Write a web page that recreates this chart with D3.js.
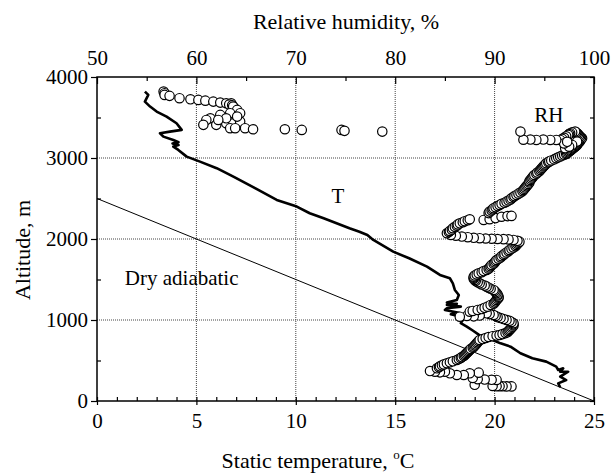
<!DOCTYPE html>
<html>
<head>
<meta charset="utf-8">
<script src="https://cdn.jsdelivr.net/npm/d3@7"></script>
<style>
   body { margin: 0; background: #fff; }
   svg text { font-family: "Liberation Serif", "Times New Roman", serif; fill: #000; }
   .grid-line { stroke: #444; stroke-width: 1; stroke-dasharray: 1,1; }
   .frame { fill: none; stroke: #000; stroke-width: 1.5; }
   .temp-line { fill: none; stroke: #000; stroke-width: 2.6; stroke-linejoin: round; }
   .rh-dot { fill: #fff; stroke: #000; stroke-width: 1.2; }
   .adiabat { stroke: #000; stroke-width: 1; }
</style>
</head>
<body>
<svg id="chart" width="611" height="473"></svg>
<script>
// temperature profile, [deg C, altitude m], surface upward
var tempProfile = [
   [23.3,170],[23.2,218],[23.6,259],[23.3,300],[23.7,362],[23.3,362],[23.45,403],[23.2,383],
   [23.1,424],[22.6,486],[21.9,527],[21.3,589],[20.8,671],[20.3,712],[19.9,753],[19.6,774],
   [19.2,820],[18.9,870],[18.6,918],[18.3,960],[18.4,1000],[18.3,1041],[17.8,1070],[18.2,1090],
   [17.5,1124],[17.6,1145],[18.3,1165],[17.6,1185],[18.1,1200],[17.6,1215],[18.1,1247],
   [18.2,1309],[18.0,1371],[17.9,1453],[17.75,1515],[17.25,1556],[16.6,1659],[15.7,1762],
   [14.9,1844],[13.9,1988],[13.6,2050],[13.2,2090],[12.7,2133],[11.4,2256],[10.7,2318],
   [10.05,2400],[9.04,2482],[7.95,2627],[6.86,2770],[6.02,2874],[5.18,2955],[4.51,3017],
   [4.09,3100],[3.84,3141],[4.1,3160],[3.8,3180],[4.1,3195],[3.84,3223],[3.34,3264],
   [3.17,3306],[3.67,3326],[4.26,3347],[4.0,3429],[3.5,3511],[3.0,3573],[2.67,3635],
   [2.41,3696],[2.58,3779],[2.41,3820]
];

var rhLower = [
   [91.7,180],[91.2,180],[90.8,182],[90.5,182],[90.2,182],[89.8,185],[88.0,200],
   [90.2,260],[89.7,262],[89.0,265],[88.3,270],[87.8,285],
   [88.4,350],[87.5,342],[86.9,321],[86.2,321],
   [85.5,342],[85.0,362],[84.5,354],[84.0,362],[83.5,370],
   [84.2,404],[84.4,416],[84.5,428],[84.7,440],[84.9,452],[85.2,466],[85.5,478],[85.8,490],
   [86.2,506],[86.4,518],[86.6,530],[86.7,542],[86.9,555],[87.0,568],[87.1,580],[87.2,593],
   [87.3,605],[87.4,618],[87.5,630],[87.6,643],[87.8,656],[87.9,671],[88.0,684],[88.1,697],
   [88.2,712],[88.3,725],[88.4,740],[88.5,753],[88.8,765],[89.1,778],[89.4,790],[89.8,800],
   [90.2,808],[90.5,815],[90.8,826],[91.1,838],[91.3,850],[91.4,865],[91.5,877],[91.6,890],
   [91.7,905],[91.8,918],[91.9,932],[91.9,946],[91.9,960],[91.7,975],[91.5,990],[91.2,1000],
   [90.9,1012],[90.6,1024],[90.3,1036],[90.1,1050],[89.9,1062],[89.5,1073],[89.2,1083],
   [88.5,1055],[87.9,1045],[87.2,1050],[86.5,1041]
];

var rhMiddle = [
   [87.5,1103],[87.8,1112],[88.3,1124],[88.7,1135],[89.0,1150],[89.3,1165],[89.6,1186],
   [89.9,1200],[90.0,1215],[90.1,1230],[90.2,1247],[90.3,1262],[90.4,1275],[90.4,1288],
   [90.3,1302],[90.3,1316],[90.2,1330],[90.1,1343],[90.0,1357],[89.9,1371],[89.6,1385],
   [89.4,1398],[89.2,1412],[89.0,1425],[88.7,1439],[88.5,1453],[88.3,1467],[88.1,1480],
   [88.0,1494],[87.9,1508],[87.9,1521],[87.9,1535],[88.0,1549],[88.2,1563],[88.4,1577],
   [88.7,1590],[88.9,1604],[89.2,1618],[89.4,1633],[89.5,1648],[89.6,1664],[89.7,1680],
   [89.9,1695],[90.0,1710],[90.1,1726],[90.2,1741],[90.4,1756],[90.6,1772],[90.7,1788],
   [90.9,1803],[91.0,1818],[91.2,1834],[91.4,1850],[91.5,1865],[91.7,1880],[91.9,1896],
   [92.1,1912],[92.2,1927],[92.3,1940],[92.4,1953],[92.5,1967],[92.3,1978],[91.9,1988],
   [91.4,1995],[90.9,1998],[90.3,2000],[89.7,2003],[89.1,2006],[88.5,2010],[87.9,2015],
   [87.3,2022],[86.7,2030],[86.1,2040],[85.6,2050],[85.2,2071],
   [85.4,2085],[85.5,2100],[85.7,2115],[85.8,2133],[86.0,2150],[86.2,2165],[86.3,2180],
   [86.5,2194],[86.8,2207],[87.0,2220],[87.3,2232],[87.5,2244],
   [88.9,2235],[89.5,2245],[90.1,2258],[90.7,2275],[91.3,2283],[91.7,2285]
];

var rhUpper = [
   [89.4,2320],[89.5,2338],[89.7,2352],[89.8,2366],[89.9,2380],[90.1,2393],[90.3,2407],
   [90.5,2420],[90.7,2434],[91.0,2447],[91.2,2461],[91.4,2475],[91.6,2489],[91.7,2503],
   [91.9,2517],[92.0,2530],[92.2,2544],[92.4,2560],[92.6,2575],[92.8,2590],[92.9,2606],
   [93.0,2620],[93.1,2635],[93.2,2650],[93.3,2665],[93.4,2680],[93.5,2697],[93.5,2713],
   [93.6,2729],[93.7,2745],[93.8,2760],[93.9,2775],[94.0,2790],[94.2,2805],[94.3,2820],
   [94.5,2836],[94.6,2853],[94.7,2867],[94.8,2881],[94.9,2895],[95.0,2908],[95.1,2921],
   [95.2,2935],[95.4,2947],[95.5,2958],[95.7,2970],[96.0,2983],[96.2,2997],[96.4,3008],
   [96.6,3019],[96.8,3030],[97.0,3040],[97.2,3050],[97.3,3059],[97.4,3070],[97.5,3080],
   [97.6,3090],[97.7,3100],[97.8,3110],[97.9,3121],[98.0,3131],[98.1,3140],[98.2,3150],
   [98.3,3160],[98.3,3171],[98.4,3182],[98.5,3195],[98.6,3208],[98.6,3220],[98.7,3232],
   [98.8,3244],[98.7,3254],[98.6,3264],[98.5,3278],[98.4,3292],[98.3,3306],[98.2,3316],
   [98.1,3326],[97.8,3316],[97.6,3306],[97.5,3296],[97.4,3285],[97.2,3268],[97.0,3250],
   [96.8,3236],[96.6,3223],[98.3,3203],[97.8,3161],[97.1,3121],[97.5,3140],[97.0,3180],
   [97.3,3200],
   [96.2,3223],[95.6,3223],[94.9,3228],[94.2,3223],[93.6,3228],[92.9,3225],[92.6,3326]
];

var rhTop = [
   [56.7,3820],[56.8,3800],[56.8,3779],[57.3,3767],[58.3,3738],[59.4,3725],[60.2,3717],
   [60.9,3708],[61.7,3696],[62.4,3684],[63.0,3676],[63.5,3676],[63.3,3660],[63.6,3650],
   [63.8,3620],[63.7,3635],[64.1,3594],[64.4,3553],[63.4,3553],[62.4,3532],[61.4,3491],
   [61.0,3470],[60.7,3409],[62.0,3409],[63.0,3429],[63.7,3429],[64.4,3450],[64.1,3511],
   [63.0,3490],[62.2,3470],[63.4,3368],[63.9,3368],[64.9,3368],[65.7,3355],[68.9,3355],
   [70.6,3347],[74.6,3347],[74.9,3335],[78.7,3326]
];

// dry adiabatic reference, [deg C, altitude m]
var dryAdiabat = [[0,2500],[25,0]];

var tempTicks = [0,5,10,15,20,25];
var rhTicks = [50,60,70,80,90,100];
var altTicks = [0,1000,2000,3000,4000];
var tempGrid = [5,10,15,20];
var altGrid = [1000,2000,3000];

var chartLabels = [
   {text: "T", x: 11.8, y: 2440},
   {text: "RH", x: 22.0, y: 3450},
   {text: "Dry adiabatic", x: 1.4, y: 1430}
];

var plot = {left: 97, right: 594, top: 77, bottom: 401};
var serif = "'Liberation Serif', 'Times New Roman', serif";
var svg = d3.select("#chart");

var xTemp = d3.scaleLinear().domain([0,25]).range([plot.left, plot.right]);
var xRH = d3.scaleLinear().domain([50,100]).range([plot.left, plot.right]);
var yAlt = d3.scaleLinear().domain([0,4000]).range([plot.bottom, plot.top]);

//dotted grid
svg.selectAll("line.grid-x")
   .data(tempGrid)
   .enter()
   .append("line")
   .attr("class", "grid-line")
   .attr("x1", function(d){ return xTemp(d); })
   .attr("x2", function(d){ return xTemp(d); })
   .attr("y1", plot.top)
   .attr("y2", plot.bottom);
svg.selectAll("line.grid-y")
   .data(altGrid)
   .enter()
   .append("line")
   .attr("class", "grid-line")
   .attr("x1", plot.left)
   .attr("x2", plot.right)
   .attr("y1", function(d){ return yAlt(d); })
   .attr("y2", function(d){ return yAlt(d); });

//dry adiabatic line
svg.append("line")
   .attr("class", "adiabat")
   .attr("x1", xTemp(dryAdiabat[0][0]))
   .attr("y1", yAlt(dryAdiabat[0][1]))
   .attr("x2", xTemp(dryAdiabat[1][0]))
   .attr("y2", yAlt(dryAdiabat[1][1]));

//temperature profile
var tempLine = d3.line()
   .x(function(d){ return xTemp(d[0]); })
   .y(function(d){ return yAlt(d[1]); });
svg.append("path")
   .datum(tempProfile)
   .attr("class", "temp-line")
   .attr("d", tempLine);

//humidity circles
var rhProfile = rhLower.concat(rhMiddle, rhUpper, rhTop);
svg.selectAll("circle.rh-dot")
   .data(rhProfile)
   .enter()
   .append("circle")
   .attr("class", "rh-dot")
   .attr("cx", function(d){ return xRH(d[0]); })
   .attr("cy", function(d){ return yAlt(d[1]); })
   .attr("r", 4.7);

//axes: minor ticks first, then major ones with labels
function styleAxis(g){
   g.attr("font-family", null);
   g.select(".domain").remove();
   g.selectAll("line").attr("stroke", "#000").attr("stroke-width", 1.2);
   g.selectAll("text").style("font-size", "21px").style("font-family", serif);
}

svg.append("g")
   .attr("transform", "translate(0," + plot.bottom + ")")
   .call(d3.axisBottom(xTemp).tickValues(d3.range(0, 26, 1)).tickSize(-4).tickFormat(""))
   .call(styleAxis);
svg.append("g")
   .attr("transform", "translate(0," + plot.bottom + ")")
   .call(d3.axisBottom(xTemp).tickValues(tempTicks).tickSizeInner(4).tickSizeOuter(0).tickPadding(8).tickFormat(d3.format("d")))
   .call(styleAxis);

svg.append("g")
   .attr("transform", "translate(0," + plot.top + ")")
   .call(d3.axisTop(xRH).tickValues(d3.range(55, 100, 10)).tickSize(-4).tickFormat(""))
   .call(styleAxis);
svg.append("g")
   .attr("transform", "translate(0," + plot.top + ")")
   .call(d3.axisTop(xRH).tickValues(rhTicks).tickSize(-7).tickPadding(12).tickFormat(d3.format("d")))
   .call(styleAxis);

svg.append("g")
   .attr("transform", "translate(" + plot.left + ",0)")
   .call(d3.axisLeft(yAlt).tickValues(d3.range(500, 4000, 1000)).tickSize(-4).tickFormat(""))
   .call(styleAxis);
svg.append("g")
   .attr("transform", "translate(" + plot.left + ",0)")
   .call(d3.axisLeft(yAlt).tickValues(altTicks).tickSize(6).tickPadding(3).tickFormat(d3.format("d")))
   .call(styleAxis);

svg.append("g")
   .attr("transform", "translate(" + plot.right + ",0)")
   .call(d3.axisRight(yAlt).tickValues(d3.range(0, 4001, 500)).tickSize(-4).tickFormat(""))
   .call(styleAxis);

//frame around plot
svg.append("rect")
   .attr("class", "frame")
   .attr("x", plot.left)
   .attr("y", plot.top)
   .attr("width", plot.right - plot.left)
   .attr("height", plot.bottom - plot.top);

//labels inside the plot
svg.selectAll("text.chart-label")
   .data(chartLabels)
   .enter()
   .append("text")
   .attr("class", "chart-label")
   .attr("x", function(d){ return xTemp(d.x); })
   .attr("y", function(d){ return yAlt(d.y); })
   .style("font-size", "21px")
   .style("font-family", serif)
   .text(function(d){ return d.text; });

//axis titles
svg.append("text")
   .attr("x", 346).attr("y", 29)
   .attr("text-anchor", "middle")
   .style("font-size", "22px")
   .style("font-family", serif)
   .text("Relative humidity, %");

var xTitle = svg.append("text")
   .attr("x", 318).attr("y", 468)
   .attr("text-anchor", "middle")
   .style("font-size", "22px")
   .style("font-family", serif);
xTitle.append("tspan").text("Static temperature, ");
xTitle.append("tspan").style("font-size", "13px").attr("dy", -9).text("o");
xTitle.append("tspan").attr("dy", 9).text("C");

svg.append("text")
   .attr("transform", "translate(30,250) rotate(-90)")
   .attr("text-anchor", "middle")
   .style("font-size", "22px")
   .style("font-family", serif)
   .text("Altitude, m");
</script>
</body>
</html>
